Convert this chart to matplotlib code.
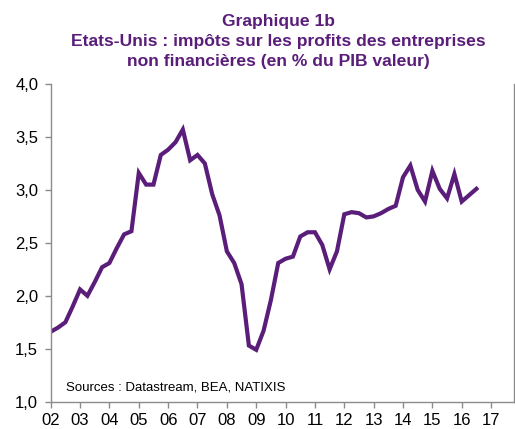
"""Etats-Unis : impôts sur les profits des entreprises non financières."""

import matplotlib

matplotlib.use("Agg")
import matplotlib.pyplot as plt
import numpy as np

plt.rcParams["font.family"] = ["Liberation Sans", "DejaVu Sans"]

# quarterly, 2002Q1 .. 2016Q3, % of nominal GDP
START_YEAR = 2002
values = [
    1.66, 1.70, 1.75, 1.90, 2.06, 2.00, 2.13, 2.27, 2.31, 2.45,
    2.58, 2.61, 3.16, 3.05, 3.05, 3.33, 3.38, 3.45, 3.57, 3.28,
    3.33, 3.25, 2.96, 2.76, 2.42, 2.31, 2.11, 1.53, 1.49, 1.67,
    1.96, 2.31, 2.35, 2.37, 2.56, 2.60, 2.60, 2.48, 2.25, 2.42,
    2.77, 2.79, 2.78, 2.74, 2.75, 2.78, 2.82, 2.85, 3.12, 3.23,
    3.00, 2.89, 3.18, 3.01, 2.92, 3.15, 2.89, 2.95, 3.01,
]
year_ticks = list(range(2002, 2018))
year_labels = [f"{y % 100:02d}" for y in year_ticks]
y_ticks = [1.0, 1.5, 2.0, 2.5, 3.0, 3.5, 4.0]
title_lines = [
    "Graphique 1b",
    "Etats-Unis : impôts sur les profits des entreprises",
    "non financières (en % du PIB valeur)",
]

PURPLE = "#5a1e7a"
GREY = "#8c8c8c"
W, H = 515, 429

t = START_YEAR + np.arange(len(values)) / 4

fig = plt.figure(figsize=(W / 100, H / 100), dpi=100)
ax = fig.add_axes([50.7 / W, 1 - 401.7 / H, (514 - 50.7) / W, (401.7 - 84) / H])
ax.plot(t, values, color=PURPLE, linewidth=3.0, solid_joinstyle="miter")

ax.set_xlim(2002, 2017.78)
ax.set_ylim(1.0, 4.0)
ax.set_xticks(year_ticks)
ax.set_xticklabels(year_labels, fontsize=12)
ax.set_yticks(y_ticks)
ax.set_yticklabels([f"{v:.1f}".replace(".", ",") for v in y_ticks], fontsize=12)
ax.tick_params(axis="both", direction="out", length=4, width=1, color=GREY)
ax.tick_params(axis="x", pad=4)
ax.tick_params(axis="y", pad=5)
ax.spines["top"].set_visible(False)
for side in ("left", "right", "bottom"):
    ax.spines[side].set_color(GREY)
    ax.spines[side].set_linewidth(1)

fig.text(65.7 / W, 1 - 391 / H, "Sources : Datastream, BEA, NATIXIS",
         fontsize=9.5, color="black", va="baseline", ha="left")

for i, line in enumerate(title_lines):
    fig.text(278 / W, 1 - (26 + 20 * i) / H, line, ha="center", va="baseline",
             fontsize=12.6, fontweight="bold", color=PURPLE)

fig.savefig("out.png", dpi=100)
plt.close(fig)
